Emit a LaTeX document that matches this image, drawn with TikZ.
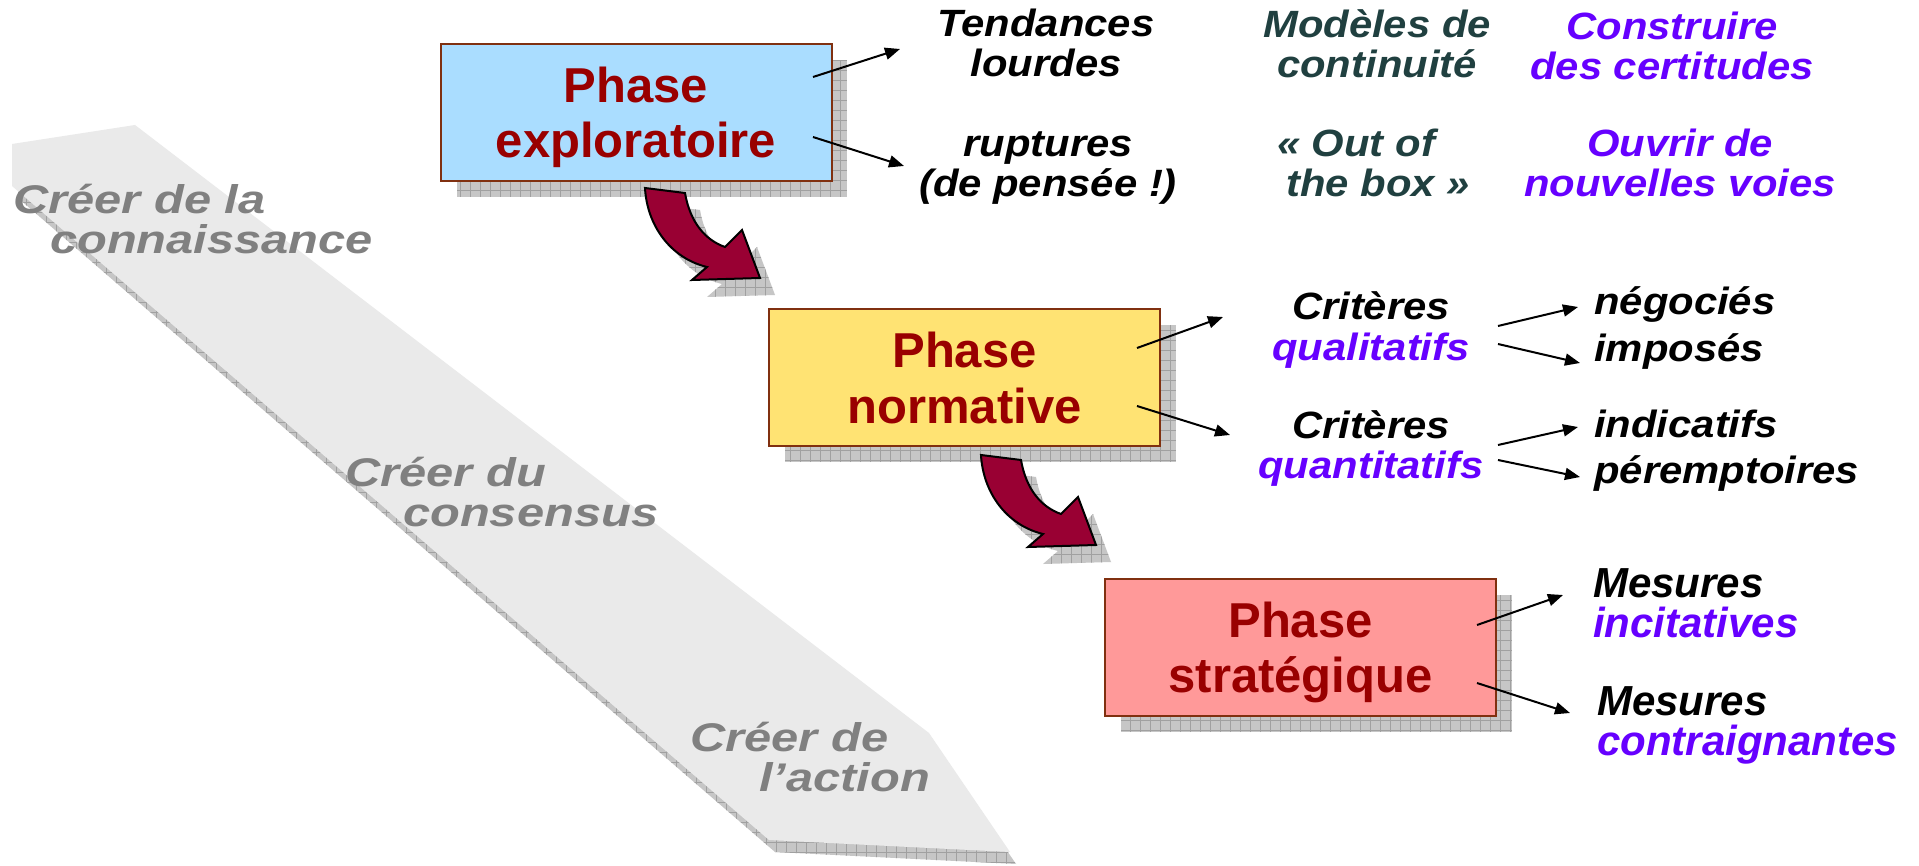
\documentclass[tikz,border=0pt]{standalone}
\usepackage{fontspec}
\setmainfont{Liberation Sans}
\newfontfamily\wideA[FakeStretch=1.1]{Liberation Sans}
\newfontfamily\wideB[FakeStretch=1.22]{Liberation Sans}
\usetikzlibrary{arrows.meta}
\definecolor{phasered}{RGB}{153,0,0}
\definecolor{boxedge}{RGB}{128,48,16}
\definecolor{fillblue}{RGB}{170,221,255}
\definecolor{fillyellow}{RGB}{255,227,115}
\definecolor{fillpink}{RGB}{255,153,153}
\definecolor{purp}{RGB}{102,0,255}
\definecolor{slate}{RGB}{32,64,64}
\definecolor{bandgrey}{RGB}{234,234,234}
\definecolor{bandtext}{RGB}{128,128,128}
\definecolor{shadowbg}{RGB}{198,198,198}
\definecolor{shadowline}{RGB}{160,160,160}
\definecolor{arrowfill}{RGB}{153,0,51}
\newcommand{\TopA}{\rule{0pt}{38pt}}
\newcommand{\TopM}{\rule{0pt}{42pt}}
\newcommand{\Bot}{\rule[-12pt]{0pt}{12pt}}
\newcommand{\phasearrow}[1]{%
  \begin{scope}[shift={#1}]
    \begin{scope}[shift={(15,17)}]
      \clip (645,188) -- (685,193) .. controls (690,222) and (705,240) .. (725,247) -- (742,230) -- (760,278) -- (692,280) -- (707,267) .. controls (670,258) and (647,225) .. (645,188) -- cycle;
      \fill[shadowbg] (630,290) rectangle (770,180);
      \draw[gridln] (630,290) grid (770,180);
    \end{scope}
    \draw[bigarrow] (645,188) -- (685,193) .. controls (690,222) and (705,240) .. (725,247) -- (742,230) -- (760,278) -- (692,280) -- (707,267) .. controls (670,258) and (647,225) .. (645,188) -- cycle;
  \end{scope}}
\begin{document}
\begin{tikzpicture}[x=1pt,y=-1pt,
  gridln/.style={shadowline, line width=0.8pt, step=10pt},
  phasebox/.style={draw=boxedge, line width=2pt, minimum width=391pt, minimum height=137pt,
    inner sep=0pt, align=center, text=phasered, font=\fontsize{49}{55}\selectfont\bfseries},
  bigarrow/.style={draw=black, fill=arrowfill, line width=2pt},
  rtxt/.style={inner sep=0pt, align=center, font=\wideA\fontsize{38}{40}\selectfont\bfseries\itshape},
  ltxt/.style={inner sep=0pt, align=left, anchor=base west, font=\wideA\fontsize{38}{40}\selectfont\bfseries\itshape},
  mtxt/.style={inner sep=0pt, align=left, anchor=west, font=\fontsize{42}{40}\selectfont\bfseries\itshape},
  btxt/.style={inner sep=0pt, align=left, anchor=west, text=bandtext, font=\wideB\fontsize{40}{40}\selectfont\bfseries\itshape},
  conn/.style={line width=2pt, -{Triangle[length=15pt,width=12pt]}}]
\useasboundingbox (0,0) rectangle (1919,866);
\fill[white] (0,0) rectangle (1919,866);

% grey band with its shadow
\begin{scope}[shift={(6,12)}]
  \clip (12,144) -- (135,125) -- (929,733) -- (1010,852) -- (769,840) -- (12,186) -- cycle;
  \fill[shadowbg] (0,870) rectangle (1030,100);
  \draw[gridln] (0,870) grid (1030,100);
\end{scope}
\fill[bandgrey] (12,144) -- (135,125) -- (929,733) -- (1010,852) -- (769,840) -- (12,186) -- cycle;

\node[btxt] (b1) at (13,221) {\TopA Créer de la\\\hspace*{37pt}connaissance\Bot};
\node[btxt] (b2) at (345,493) {\TopA Créer du\\\hspace*{58pt}consensus\Bot};
\node[btxt] (b3) at (690,758) {\TopA Créer de\\\hspace*{69pt}l’action\Bot};

% box shadows
\fill[shadowbg] (457,197) rectangle (847,60);
\draw[gridln] (457,197) grid (847,60);
\fill[shadowbg] (785,462) rectangle (1176,325);
\draw[gridln] (785,462) grid (1176,325);
\fill[shadowbg] (1121,732) rectangle (1512,595);
\draw[gridln] (1121,732) grid (1512,595);

% phase boxes
\node[phasebox, fill=fillblue] (p1) at (636,112.5) {\rule{0pt}{46pt}Phase\\exploratoire\rule[-10pt]{0pt}{10pt}};
\node[phasebox, fill=fillyellow] (p2) at (964.5,377.5) {\rule{0pt}{46pt}Phase\\normative\rule[-10pt]{0pt}{10pt}};
\node[phasebox, fill=fillpink] (p3) at (1300.5,647.5) {\rule{0pt}{46pt}Phase\\stratégique\rule[-10pt]{0pt}{10pt}};

% curved block arrows
\phasearrow{(0,0)}
\phasearrow{(336,267)}

% texts
\node[rtxt] (tend) at (1046,44) {\TopA Tendances\\lourdes\Bot};
\node[rtxt] (rupt) at (1048,164) {\TopA ruptures\\(de pensée !)\Bot};
\node[rtxt, text=slate] (mod) at (1377,45) {\TopA Modèles de\\continuité\Bot};
\node[rtxt, text=slate] (oob) at (1378,164) {\TopA « Out of\hspace*{44pt}\\the box »\Bot};
\node[rtxt, text=purp] (cons) at (1672,47) {\TopA Construire\\des certitudes\Bot};
\node[rtxt, text=purp] (ouv) at (1680,164) {\TopA Ouvrir de\\nouvelles voies\Bot};

\node[rtxt] (cql) at (1371,327) {\TopA Critères\\\textcolor{purp}{qualitatifs}\Bot};
\node[rtxt] (cqn) at (1371,445) {\TopA Critères\\\textcolor{purp}{quantitatifs}\Bot};
\node[ltxt] (neg) at (1594,315) {négociés};
\node[ltxt] (imp) at (1594,362) {imposés};
\node[ltxt] (ind) at (1594,437) {indicatifs};
\node[ltxt] (per) at (1594,483) {péremptoires};

\node[mtxt] (mes1) at (1593,602) {\TopM Mesures\\\textcolor{purp}{incitatives}\Bot};
\node[mtxt] (mes2) at (1597,720) {\TopM Mesures\\\textcolor{purp}{contraignantes}\Bot};

% connector end points
\coordinate (s1a) at (813,77);   \coordinate (e1a) at (900,49);
\coordinate (s1b) at (813,137);  \coordinate (e1b) at (904,166);
\coordinate (s2a) at (1137,348); \coordinate (e2a) at (1223,317);
\coordinate (s2b) at (1137,406); \coordinate (e2b) at (1230,435);
\coordinate (s3a) at (1477,625); \coordinate (e3a) at (1563,595);
\coordinate (s3b) at (1477,683); \coordinate (e3b) at (1570,713);
\coordinate (sq1) at (1498,326); \coordinate (eq1) at (1578,307);
\coordinate (sq2) at (1498,344); \coordinate (eq2) at (1580,363);
\coordinate (sn1) at (1498,445); \coordinate (en1) at (1578,427);
\coordinate (sn2) at (1498,460); \coordinate (en2) at (1580,477);

\draw[conn] (s1a) -- (e1a);
\draw[conn] (s1b) -- (e1b);
\draw[conn] (s2a) -- (e2a);
\draw[conn] (s2b) -- (e2b);
\draw[conn] (s3a) -- (e3a);
\draw[conn] (s3b) -- (e3b);
\draw[conn] (sq1) -- (eq1);
\draw[conn] (sq2) -- (eq2);
\draw[conn] (sn1) -- (en1);
\draw[conn] (sn2) -- (en2);
\end{tikzpicture}
\end{document}
